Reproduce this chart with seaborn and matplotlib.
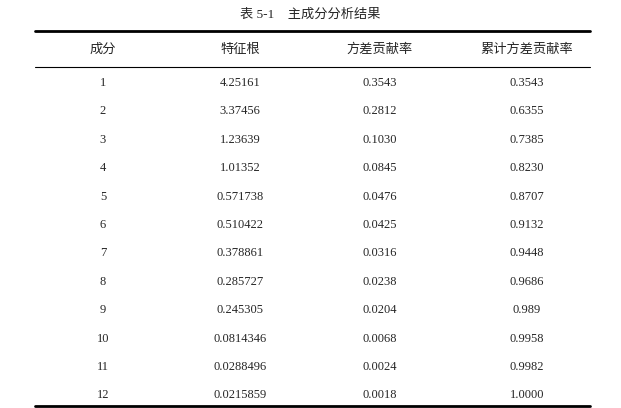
import matplotlib.pyplot as plt
import seaborn as sns

# table data
title = "表 5-1    主成分分析结果"
headers = ["成分", "特征根", "方差贡献率", "累计方差贡献率"]
components = ["1", "2", "3", "4", "5", "6", "7", "8", "9", "10", "11", "12"]
eigenvalues = ["4.25161", "3.37456", "1.23639", "1.01352", "0.571738", "0.510422",
               "0.378861", "0.285727", "0.245305", "0.0814346", "0.0288496", "0.0215859"]
variance = ["0.3543", "0.2812", "0.1030", "0.0845", "0.0476", "0.0425",
            "0.0316", "0.0238", "0.0204", "0.0068", "0.0024", "0.0018"]
cumulative = ["0.3543", "0.6355", "0.7385", "0.8230", "0.8707", "0.9132",
              "0.9448", "0.9686", "0.989", "0.9958", "0.9982", "1.0000"]

sns.set_theme(style="white")
plt.rcParams['font.family'] = ['Liberation Serif', 'Noto Sans CJK SC', 'DejaVu Sans']

fig = plt.figure(figsize=(6.21, 4.08), dpi=100)
ax = fig.add_axes([0, 0, 1, 1])
ax.set_xlim(0, 621)
ax.set_ylim(408, 0)
ax.axis('off')

col_x = [103, 240, 380, 527]
x0, x1 = 35, 590

ax.text(310, 15, title, ha='center', va='center', fontsize=9.5)
ax.plot([x0, x1], [31, 31], color='black', lw=2)
ax.plot([x0, x1], [67, 67], color='black', lw=0.8)
ax.plot([x0, x1], [406, 406], color='black', lw=2)

for x, h in zip(col_x, headers):
    ax.text(x, 50, h, ha='center', va='center', fontsize=9.5)

rows = zip(components, eigenvalues, variance, cumulative)
for i, row in enumerate(rows):
    y = 83 + i * 28.4
    for x, v in zip(col_x, row):
        ax.text(x, y, v, ha='center', va='center', fontsize=9)

fig.savefig('out.png', dpi=100)
